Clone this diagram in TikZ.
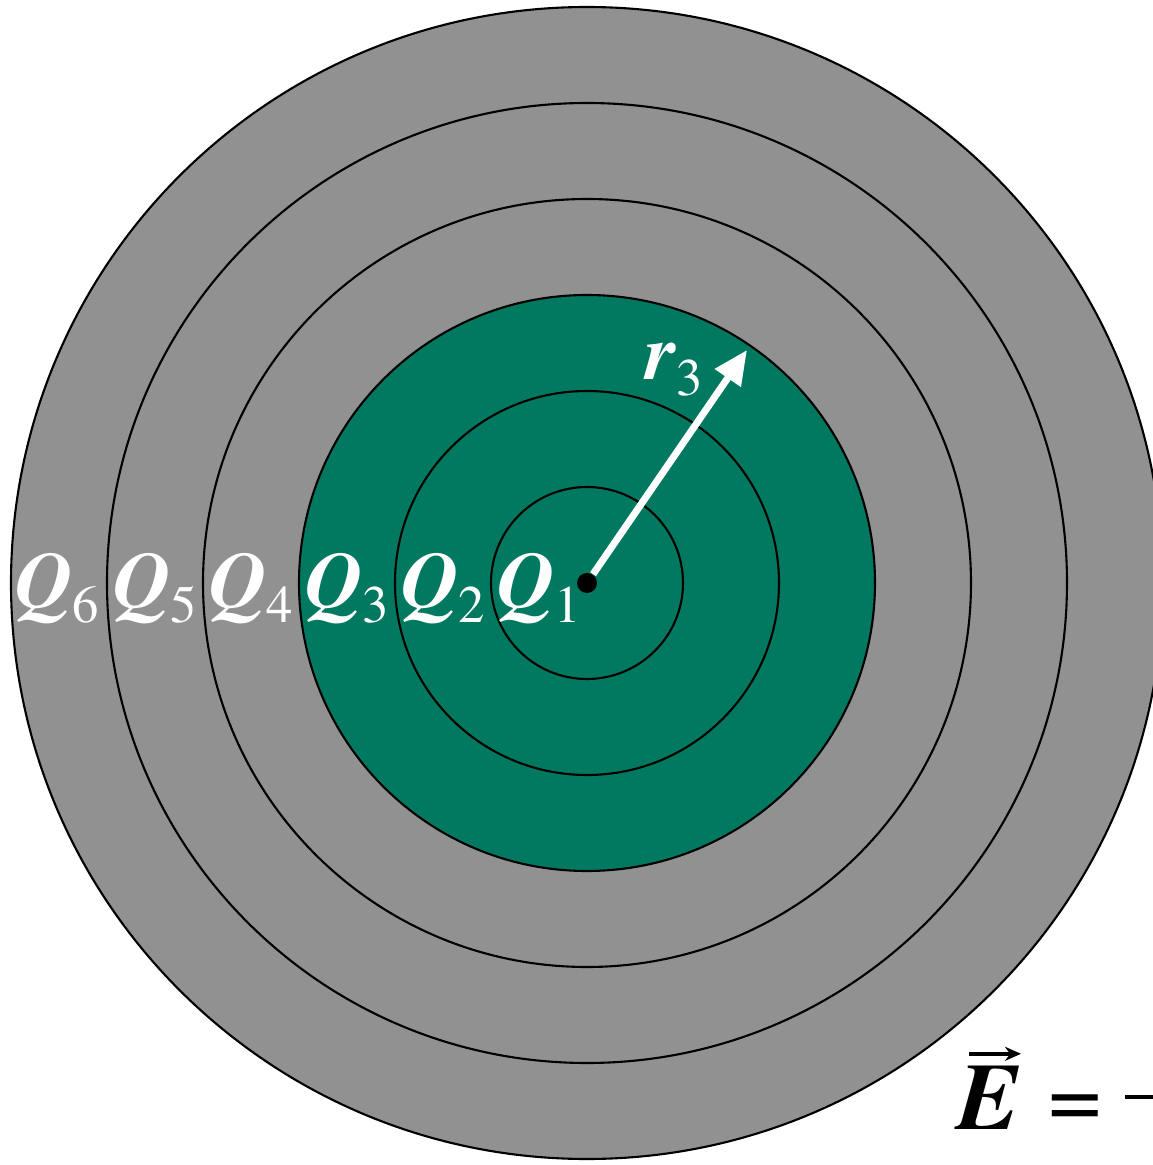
\documentclass[tikz,border=0pt]{standalone}
\usepackage{fontspec}
\setmainfont{texgyretermes}[Extension=.otf, UprightFont=*-regular, BoldFont=*-bold,
  ItalicFont=*-italic, BoldItalicFont=*-bolditalic]
\usetikzlibrary{arrows.meta}
\definecolor{shellgray}{RGB}{145,145,145}
\definecolor{shellgreen}{RGB}{0,121,96}
\newcommand{\sublab}[1]{\raisebox{-0.2em}{\normalfont\fontsize{15}{15}\selectfont #1}}
\newcommand{\qlab}[1]{\textbf{\textit{Q}}\sublab{#1}}

\begin{document}
\begin{tikzpicture}[ring/.style={draw=black,line width=0.6pt},
  lab/.style={text=white,anchor=base,inner sep=0pt,font=\fontsize{22.5}{22.5}\selectfont}]
\useasboundingbox (0,0) rectangle (11.53,11.65);
\filldraw[ring,fill=shellgray] (5.87,5.82) circle (5.76);
\filldraw[ring,fill=shellgray] (5.87,5.82) circle (4.80);
\filldraw[ring,fill=shellgray] (5.87,5.82) circle (3.84);
\filldraw[ring,fill=shellgreen] (5.87,5.82) circle (2.88);
\filldraw[ring,fill=shellgreen] (5.87,5.82) circle (1.92);
\filldraw[ring,fill=shellgreen] (5.87,5.82) circle (0.96);

\node[lab] (q1) at (5.39,5.58) {\qlab{1}};
\node[lab] (q2) at (4.43,5.58) {\qlab{2}};
\node[lab] (q3) at (3.47,5.58) {\qlab{3}};
\node[lab] (q4) at (2.51,5.58) {\qlab{4}};
\node[lab] (q5) at (1.55,5.58) {\qlab{5}};
\node[lab] (q6) at (0.57,5.58) {\qlab{6}};

\node[circle,fill=black,inner sep=0pt,minimum size=0.2cm] (o) at (5.87,5.82) {};
\coordinate (tip) at (7.47,8.15);
\draw[white,line width=2pt,-{Triangle[length=0.34cm,width=0.3cm]}] (o) -- (tip);
\node[lab] (r3) at (6.74,7.85) {\textbf{\textit{r}}\sublab{3}};

\node[anchor=base,inner sep=0pt,font=\fontsize{27}{27}\selectfont] (efield) at (9.89,0.35) {\textbf{\textit{E}}};
\node[anchor=base,inner sep=0pt,font=\fontsize{27}{27}\selectfont] (eq) at (10.75,0.35) {=};
\draw[line width=1pt,-{Stealth[length=0.16cm,width=0.14cm]}] ([xshift=-0.2cm,yshift=0.12cm]efield.north) -- ([xshift=0.32cm,yshift=0.12cm]efield.north);
\coordinate (barend) at (11.53,0.68);
\draw[line width=1.3pt] (11.25,0.68) -- (barend);
\end{tikzpicture}
\end{document}
